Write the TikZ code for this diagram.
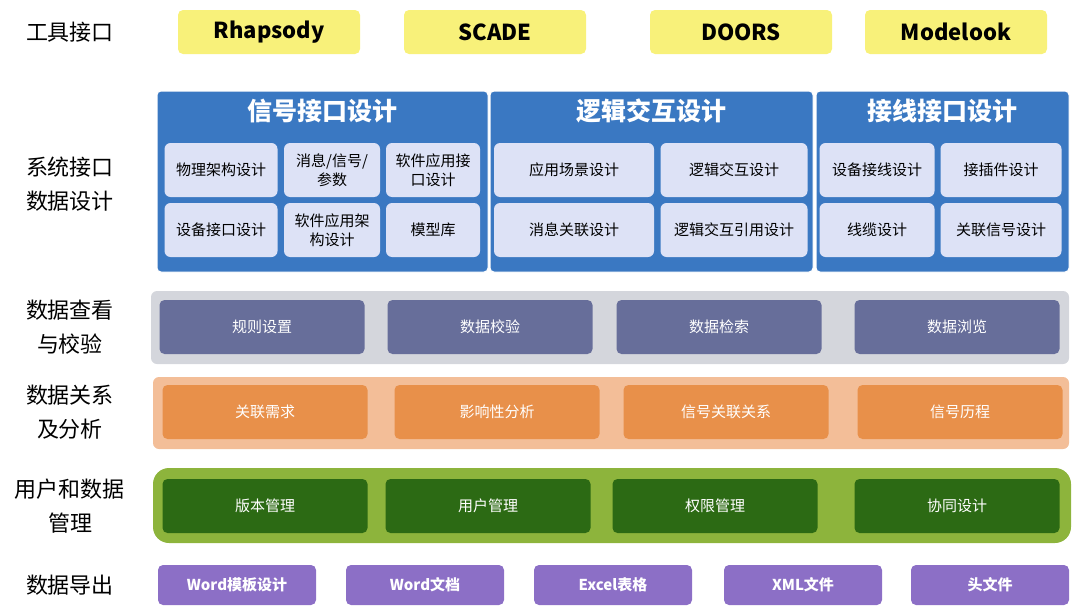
\documentclass[tikz,border=0pt]{standalone}
\usepackage{fontspec}
\setmainfont{Noto Sans CJK SC}
\definecolor{tooly}{HTML}{F8F17A}
\definecolor{panelb}{HTML}{3A78C2}
\definecolor{itemb}{HTML}{DDE2F6}
\definecolor{bandg}{HTML}{D4D6DC}
\definecolor{itemg}{HTML}{676E9A}
\definecolor{bando}{HTML}{F3BE98}
\definecolor{itemo}{HTML}{E8904A}
\definecolor{bandgr}{HTML}{8DB43C}
\definecolor{itemgr}{HTML}{2C6A14}
\definecolor{itemp}{HTML}{8C6FC6}
\begin{document}
\begin{tikzpicture}[x=1pt,y=-1pt]
	\tikzset{lbl/.style={align=center, font=\fontsize{22}{34}\selectfont}}
	\tikzset{tool/.style={fill=tooly, rounded corners=5pt, minimum width=182pt, minimum height=44pt, font=\fontsize{22}{26}\selectfont\bfseries}}
	\tikzset{panel/.style={fill=panelb, draw=white, line width=1pt, rounded corners=4pt}}
	\tikzset{ptitle/.style={text=white, font=\fontsize{25}{30}\selectfont\bfseries}}
	\tikzset{item/.style={fill=itemb, rounded corners=6pt, minimum height=54pt, align=center, font=\fontsize{15}{19}\selectfont}}
	\tikzset{band/.style={rounded corners=6pt}}
	\tikzset{cell/.style={rounded corners=5pt, minimum width=205pt, minimum height=54pt, text=white, font=\fontsize{15}{19}\selectfont}}
	\tikzset{expt/.style={fill=itemp, rounded corners=5pt, minimum width=158pt, minimum height=40pt, text=white, font=\fontsize{15}{19}\selectfont\bfseries}}
	\useasboundingbox (0,0) rectangle (1080,613);

	% row labels
	\node[lbl] (l1) at (70,32) {工具接口};
	\node[lbl] (l2) at (70,184) {系统接口\\数据设计};
	\node[lbl] (l3) at (70,327) {数据查看\\与校验};
	\node[lbl] (l4) at (70,412) {数据关系\\及分析};
	\node[lbl] (l5) at (70,506) {用户和数据\\管理};
	\node[lbl] (l6) at (70,585) {数据导出};

	% tools
	\node[tool] (t1) at (269,32) {Rhapsody};
	\node[tool] (t2) at (495,32) {SCADE};
	\node[tool] (t3) at (741,32) {DOORS};
	\node[tool] (t4) at (956,32) {Modelook};

	% system interface panels
	\draw[panel] (157,91) rectangle (488,272);
	\draw[panel] (490,91) rectangle (813,272);
	\draw[panel] (816,91) rectangle (1069,272);
	\node[ptitle] (p1) at (322,111) {信号接口设计};
	\node[ptitle] (p2) at (651,111) {逻辑交互设计};
	\node[ptitle] (p3) at (942,111) {接线接口设计};

	\node[item, minimum width=113pt] (a1) at (221,170) {物理架构设计};
	\node[item, minimum width=96pt] (a2) at (332,170) {消息/信号/\\参数};
	\node[item, minimum width=94pt] (a3) at (433,170) {软件应用接\\口设计};
	\node[item, minimum width=113pt] (a4) at (221,230) {设备接口设计};
	\node[item, minimum width=96pt] (a5) at (332,230) {软件应用架\\构设计};
	\node[item, minimum width=94pt] (a6) at (433,230) {模型库};
	\node[item, minimum width=160pt] (b1) at (574,170) {应用场景设计};
	\node[item, minimum width=147pt] (b2) at (734,170) {逻辑交互设计};
	\node[item, minimum width=160pt] (b3) at (574,230) {消息关联设计};
	\node[item, minimum width=147pt] (b4) at (734,230) {逻辑交互引用设计};
	\node[item, minimum width=115pt] (c1) at (877,170) {设备接线设计};
	\node[item, minimum width=121pt] (c2) at (1001,170) {接插件设计};
	\node[item, minimum width=115pt] (c3) at (877,230) {线缆设计};
	\node[item, minimum width=121pt] (c4) at (1001,230) {关联信号设计};

	% check
	\fill[band, bandg] (151,291) rectangle (1069,364);
	\node[cell, fill=itemg] (d1) at (262,327) {规则设置};
	\node[cell, fill=itemg] (d2) at (490,327) {数据校验};
	\node[cell, fill=itemg] (d3) at (719,327) {数据检索};
	\node[cell, fill=itemg] (d4) at (957,327) {数据浏览};

	% analysis
	\fill[band, bando] (153,377) rectangle (1069,449);
	\node[cell, fill=itemo] (e1) at (265,412) {关联需求};
	\node[cell, fill=itemo] (e2) at (497,412) {影响性分析};
	\node[cell, fill=itemo] (e3) at (726,412) {信号关联关系};
	\node[cell, fill=itemo] (e4) at (960,412) {信号历程};

	% users
	\fill[bandgr, rounded corners=16pt] (153,468) rectangle (1071,543);
	\node[cell, fill=itemgr] (f1) at (265,506) {版本管理};
	\node[cell, fill=itemgr] (f2) at (488,506) {用户管理};
	\node[cell, fill=itemgr] (f3) at (715,506) {权限管理};
	\node[cell, fill=itemgr] (f4) at (957,506) {协同设计};

	% export
	\node[expt] (g1) at (237,585) {Word模板设计};
	\node[expt] (g2) at (425,585) {Word文档};
	\node[expt] (g3) at (613,585) {Excel表格};
	\node[expt] (g4) at (803,585) {XML文件};
	\node[expt] (g5) at (990,585) {头文件};
\end{tikzpicture}
\end{document}
